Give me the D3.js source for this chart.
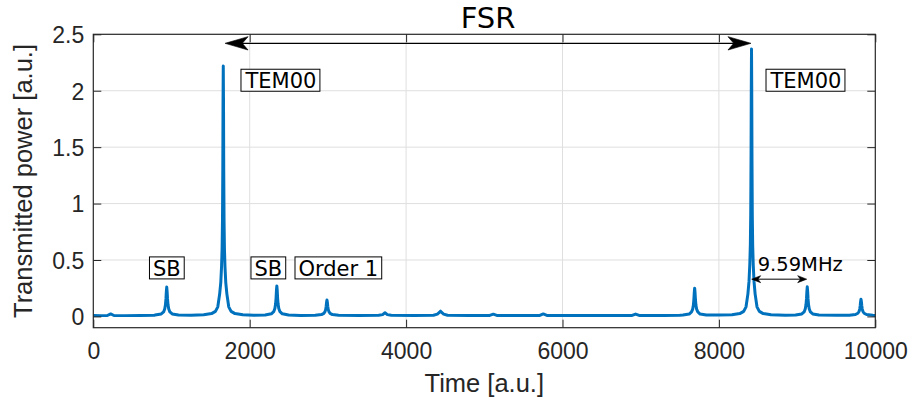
<!DOCTYPE html>
<html>
<head>
<meta charset="utf-8">
<script src="https://cdn.jsdelivr.net/npm/d3@7/dist/d3.min.js"></script>
<style>
  html, body { margin: 0; padding: 0; background: #fff; }
  svg { display: block; }
</style>
</head>
<body>
<svg id="chart" width="913" height="405"></svg>
<script>
// ---------------- data ----------------
const time = [
  0, 100, 180, 222, 264, 400, 600, 780,
  789, 869, 899, 914, 923, 929, 934, 939, 944, 949, 955, 964, 979, 1009, 1089,
  1250,
  1412, 1512, 1562, 1592, 1616, 1630, 1640, 1647, 1652, 1656, 1659, 1662, 1665, 1668, 1672, 1677, 1684, 1694, 1708, 1732, 1762, 1812, 1912,
  2050,
  2197, 2277, 2307, 2322, 2331, 2337, 2342, 2347, 2352, 2357, 2363, 2372, 2387, 2417, 2497,
  2650,
  2838, 2918, 2948, 2963, 2972, 2978, 2983, 2988, 2993, 2998, 3004, 3013, 3028, 3058, 3138,
  3400, 3650, 3700, 3730, 3760, 3810,
  4100, 4350, 4400, 4425, 4440, 4455, 4480, 4530,
  4800, 5070, 5115, 5160,
  5450, 5710, 5754, 5800,
  6300, 6700, 6890, 6935, 6980,
  7300, 7500,
  7540, 7620, 7650, 7665, 7674, 7680, 7685, 7690, 7695, 7700, 7706, 7715, 7730, 7760, 7840,
  8000,
  8167, 8267, 8317, 8347, 8371, 8385, 8395, 8402, 8407, 8411, 8414, 8417, 8420, 8423, 8427, 8432, 8439, 8449, 8463, 8487, 8517, 8567, 8667,
  8850,
  8980, 9060, 9090, 9105, 9114, 9120, 9125, 9130, 9135, 9140, 9146, 9155, 9170, 9200, 9280,
  9500,
  9667, 9747, 9777, 9792, 9801, 9807, 9812, 9817, 9822, 9827, 9833, 9842, 9857, 9887, 9967,
  10000
];
const power = [
  0.008, 0.007, 0.008, 0.022, 0.008, 0.007, 0.008, 0.010,
  0.012, 0.022, 0.040, 0.068, 0.105, 0.155, 0.220, 0.260, 0.220, 0.155, 0.105, 0.068, 0.040, 0.022, 0.012,
  0.010,
  0.014, 0.025, 0.045, 0.085, 0.200, 0.300, 0.440, 0.600, 0.850, 1.300, 1.900, 2.220, 1.900, 1.300, 0.850, 0.600, 0.440, 0.300, 0.200, 0.085, 0.045, 0.025, 0.014,
  0.010,
  0.012, 0.023, 0.042, 0.070, 0.110, 0.160, 0.230, 0.270, 0.230, 0.160, 0.110, 0.070, 0.042, 0.023, 0.012,
  0.009,
  0.010, 0.016, 0.027, 0.042, 0.062, 0.090, 0.125, 0.145, 0.125, 0.090, 0.062, 0.042, 0.027, 0.016, 0.010,
  0.009, 0.010, 0.016, 0.032, 0.016, 0.010,
  0.009, 0.010, 0.020, 0.035, 0.047, 0.035, 0.020, 0.010,
  0.009, 0.009, 0.020, 0.009,
  0.008, 0.009, 0.022, 0.009,
  0.008, 0.009, 0.009, 0.021, 0.009,
  0.009, 0.010,
  0.012, 0.021, 0.040, 0.065, 0.100, 0.150, 0.210, 0.250, 0.210, 0.150, 0.100, 0.065, 0.040, 0.021, 0.012,
  0.012,
  0.014, 0.025, 0.045, 0.085, 0.200, 0.310, 0.460, 0.630, 0.900, 1.400, 2.000, 2.370, 2.000, 1.400, 0.900, 0.630, 0.460, 0.310, 0.200, 0.085, 0.045, 0.025, 0.014,
  0.011,
  0.012, 0.022, 0.040, 0.068, 0.105, 0.155, 0.220, 0.262, 0.220, 0.155, 0.105, 0.068, 0.040, 0.022, 0.012,
  0.010,
  0.010, 0.017, 0.028, 0.044, 0.065, 0.095, 0.130, 0.153, 0.130, 0.095, 0.065, 0.044, 0.028, 0.017, 0.010,
  0.009
];
const xTicks = [0, 2000, 4000, 6000, 8000, 10000];
const xTickLabels = ["0", "2000", "4000", "6000", "8000", "10000"];
const yTicks = [0, 0.5, 1, 1.5, 2, 2.5];
const yTickLabels = ["0", "0.5", "1", "1.5", "2", "2.5"];
const xDomain = [0, 10000];
const yDomain = [-0.1, 2.5];
const xLabel = "Time [a.u.]";
const yLabel = "Transmitted power [a.u.]";
const title = "FSR";
// annotation anchors in data coordinates
const boxLabels = [
  { text: "TEM00", x: 1946, y: 2.022 },
  { text: "TEM00", x: 8660, y: 2.022 },
  { text: "SB", x: 763, y: 0.359 },
  { text: "SB", x: 2061, y: 0.359 },
  { text: "Order 1", x: 2624, y: 0.359 }
];
const fsrArrow = { x1: 1685, x2: 8410, y: 2.42 };
const sbArrow = { x1: 8419, x2: 9123, y: 0.33, text: "9.59MHz", tx: 8496, ty: 0.404 };

// ---------------- layout ----------------
const W = 913, H = 405;
const margin = { left: 93.3, right: 37.7, top: 34.3, bottom: 77.3 };
const pw = W - margin.left - margin.right;
const ph = H - margin.top - margin.bottom;
const axisColor = "#262626";
const gridColor = "#dfdfdf";
const lineColor = "#0072BD";
const tickFont = "'Liberation Sans', Arial, Helvetica, sans-serif";
const annFont = "'DejaVu Sans', sans-serif";

const svg = d3.select("#chart");
const x = d3.scaleLinear().domain(xDomain).range([margin.left, margin.left + pw]);
const y = d3.scaleLinear().domain(yDomain).range([margin.top + ph, margin.top]);

svg.append("defs").append("clipPath").attr("id", "clip")
  .append("rect").attr("x", margin.left).attr("y", margin.top).attr("width", pw).attr("height", ph);

// grid
const grid = svg.append("g");
grid.selectAll("line.gx").data(xTicks.slice(1, -1)).enter().append("line")
  .attr("x1", d => x(d)).attr("x2", d => x(d))
  .attr("y1", margin.top).attr("y2", margin.top + ph)
  .attr("stroke", gridColor).attr("stroke-width", 1);
grid.selectAll("line.gy").data(yTicks.slice(1, -1)).enter().append("line")
  .attr("x1", margin.left).attr("x2", margin.left + pw)
  .attr("y1", d => y(d)).attr("y2", d => y(d))
  .attr("stroke", gridColor).attr("stroke-width", 1);

// series
const pts = time.map((t, i) => [t, power[i]]);
svg.append("path").datum(pts)
  .attr("clip-path", "url(#clip)")
  .attr("fill", "none").attr("stroke", lineColor).attr("stroke-width", 3)
  .attr("stroke-linejoin", "round").attr("stroke-linecap", "round")
  .attr("d", d3.line().x(d => x(d[0])).y(d => y(d[1])));

// axes (box with inward ticks on all sides)
const tickLen = 8;
const fmtX = (d, i) => xTickLabels[i];
const fmtY = (d, i) => yTickLabels[i];
function styleAxis(g) {
  g.select(".domain").remove();
  g.selectAll(".tick line").attr("stroke", axisColor).attr("stroke-width", 1);
  g.selectAll(".tick text").attr("fill", axisColor)
    .style("font-family", tickFont).style("font-size", "23px");
}
const axB = svg.append("g").attr("transform", `translate(0,${margin.top + ph})`)
  .call(d3.axisBottom(x).tickValues(xTicks).tickFormat(fmtX).tickSizeInner(-tickLen).tickSizeOuter(0).tickPadding(15));
styleAxis(axB);
axB.selectAll(".tick text").attr("dy", "0.71em");
const axT = svg.append("g").attr("transform", `translate(0,${margin.top})`)
  .call(d3.axisTop(x).tickValues(xTicks).tickFormat("").tickSizeInner(-tickLen).tickSizeOuter(0));
styleAxis(axT);
const axL = svg.append("g").attr("transform", `translate(${margin.left},0)`)
  .call(d3.axisLeft(y).tickValues(yTicks).tickFormat(fmtY).tickSizeInner(-tickLen).tickSizeOuter(0).tickPadding(9));
styleAxis(axL);
axL.selectAll(".tick text").attr("dy", "0.36em");
const axR = svg.append("g").attr("transform", `translate(${margin.left + pw},0)`)
  .call(d3.axisRight(y).tickValues(yTicks).tickFormat("").tickSizeInner(-tickLen).tickSizeOuter(0));
styleAxis(axR);

svg.append("rect").attr("x", margin.left).attr("y", margin.top).attr("width", pw).attr("height", ph)
  .attr("fill", "none").attr("stroke", axisColor).attr("stroke-width", 1.2);

// axis labels
svg.append("text").attr("x", margin.left + pw / 2).attr("y", 392)
  .attr("text-anchor", "middle").attr("fill", axisColor)
  .style("font-family", tickFont).style("font-size", "25.5px").text(xLabel);
svg.append("text").attr("transform", `translate(32,${margin.top + ph / 2}) rotate(-90)`)
  .attr("text-anchor", "middle").attr("fill", axisColor)
  .style("font-family", tickFont).style("font-size", "25.5px").text(yLabel);

// title-like annotation
svg.append("text").attr("x", (x(fsrArrow.x1) + x(fsrArrow.x2)) / 2).attr("y", 28.3)
  .attr("text-anchor", "middle").attr("fill", "#000")
  .style("font-family", annFont).style("font-size", "29px").text(title);

// arrows
function arrowHead(g, tipX, tipY, dir, len, half, notch) {
  // dir = -1 pointing left, +1 pointing right
  const bx = tipX - dir * len, nx = tipX - dir * len * notch;
  g.append("path")
    .attr("d", `M${tipX},${tipY} L${bx},${tipY - half} L${nx},${tipY} L${bx},${tipY + half} Z`)
    .attr("fill", "#000").attr("stroke", "#000").attr("stroke-width", 0.6);
}
const arr = svg.append("g");
arr.append("line").attr("x1", x(fsrArrow.x1) + 5).attr("x2", x(fsrArrow.x2) - 5)
  .attr("y1", y(fsrArrow.y)).attr("y2", y(fsrArrow.y)).attr("stroke", "#000").attr("stroke-width", 1.2);
arrowHead(arr, x(fsrArrow.x1), y(fsrArrow.y), -1, 23, 6.7, 0.75);
arrowHead(arr, x(fsrArrow.x2), y(fsrArrow.y), 1, 23, 6.7, 0.75);

arr.append("line").attr("x1", x(sbArrow.x1) + 3).attr("x2", x(sbArrow.x2) - 3)
  .attr("y1", y(sbArrow.y)).attr("y2", y(sbArrow.y)).attr("stroke", "#000").attr("stroke-width", 1);
arrowHead(arr, x(sbArrow.x1), y(sbArrow.y), -1, 9, 3.5, 0.7);
arrowHead(arr, x(sbArrow.x2), y(sbArrow.y), 1, 9, 3.5, 0.7);
svg.append("text").attr("x", x(sbArrow.tx)).attr("y", y(sbArrow.ty))
  .attr("fill", "#000").style("font-family", annFont).style("font-size", "19.5px").text(sbArrow.text);

// boxed labels
const bl = svg.append("g");
boxLabels.forEach(d => {
  const g = bl.append("g");
  const rect = g.append("rect");
  const t = g.append("text").attr("x", x(d.x)).attr("y", y(d.y))
    .attr("fill", "#000").style("font-family", annFont).style("font-size", "21px").text(d.text);
  const bb = t.node().getBBox();
  rect.attr("x", bb.x - 3.5).attr("y", y(d.y) - 19).attr("width", bb.width + 7).attr("height", 22)
    .attr("fill", "#fff").attr("stroke", "#000").attr("stroke-width", 1);
});
</script>
</body>
</html>
